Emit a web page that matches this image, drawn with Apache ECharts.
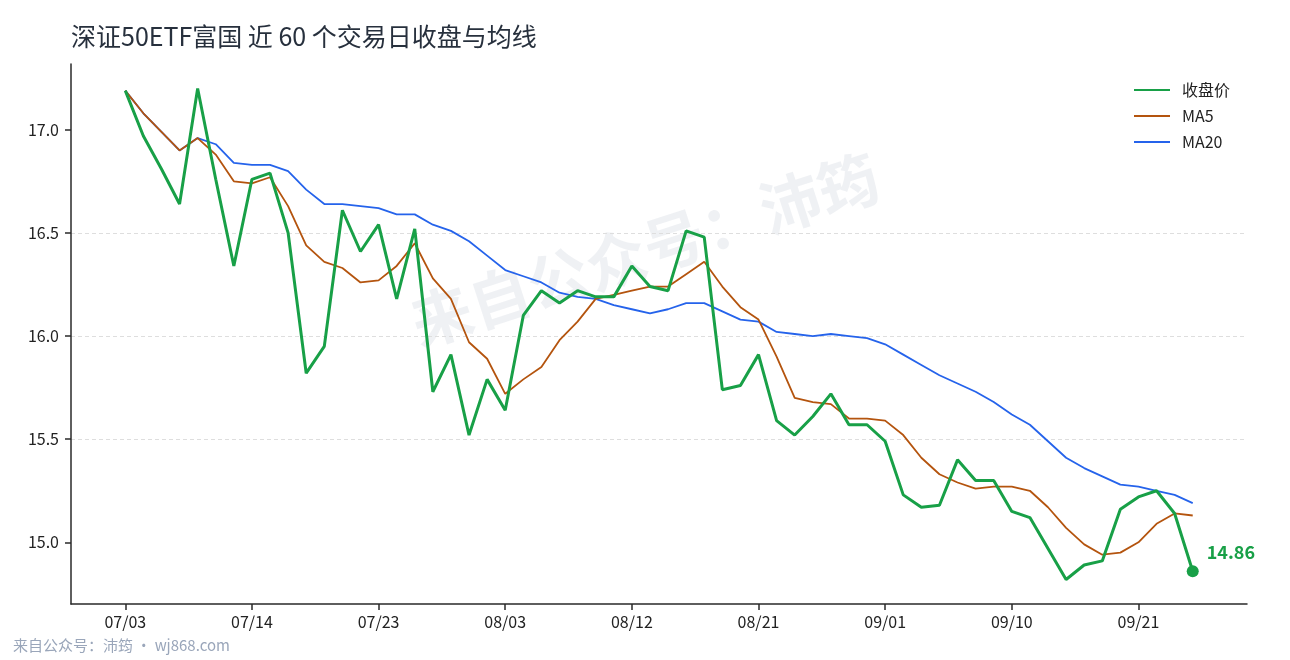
<!DOCTYPE html>
<html>
<head>
<meta charset="utf-8">
<title>深证50ETF富国 近 60 个交易日收盘与均线</title>
<script src="https://cdn.jsdelivr.net/npm/echarts@6/dist/echarts.min.js"></script>
<style>
  html, body { margin: 0; padding: 0; background: #fff; }
  #chart { width: 1290px; height: 660px; }
</style>
</head>
<body>
<div id="chart"></div>
<script>
const dates = ['07/03','07/04','07/07','07/08','07/09','07/10','07/11','07/14','07/15','07/16',
  '07/17','07/18','07/21','07/22','07/23','07/24','07/25','07/28','07/29','07/30',
  '07/31','08/03','08/04','08/05','08/06','08/07','08/08','08/11','08/12','08/13',
  '08/14','08/15','08/18','08/19','08/20','08/21','08/22','08/25','08/26','08/27',
  '08/28','08/29','09/01','09/02','09/03','09/04','09/05','09/08','09/09','09/10',
  '09/11','09/12','09/15','09/16','09/17','09/18','09/21','09/22','09/23','09/24'];

const close = [17.19,16.97,16.81,16.64,17.20,16.76,16.34,16.76,16.79,16.50,
  15.82,15.95,16.61,16.41,16.54,16.18,16.52,15.73,15.91,15.52,
  15.79,15.64,16.10,16.22,16.16,16.22,16.19,16.19,16.34,16.24,
  16.22,16.51,16.48,15.74,15.76,15.91,15.59,15.52,15.61,15.72,
  15.57,15.57,15.49,15.23,15.17,15.18,15.40,15.30,15.30,15.15,
  15.12,14.97,14.82,14.89,14.91,15.16,15.22,15.25,15.14,14.86];

const ma5 = [17.19,17.08,16.99,16.90,16.96,16.88,16.75,16.74,16.77,16.63,
  16.44,16.36,16.33,16.26,16.27,16.34,16.45,16.28,16.18,15.97,
  15.89,15.72,15.79,15.85,15.98,16.07,16.18,16.20,16.22,16.24,
  16.24,16.30,16.36,16.24,16.14,16.08,15.90,15.70,15.68,15.67,
  15.60,15.60,15.59,15.52,15.41,15.33,15.29,15.26,15.27,15.27,
  15.25,15.17,15.07,14.99,14.94,14.95,15.00,15.09,15.14,15.13];

const ma20 = [17.19,17.08,16.99,16.90,16.96,16.93,16.84,16.83,16.83,16.80,
  16.71,16.64,16.64,16.63,16.62,16.59,16.59,16.54,16.51,16.46,
  16.39,16.32,16.29,16.26,16.21,16.19,16.18,16.15,16.13,16.11,
  16.13,16.16,16.16,16.12,16.08,16.07,16.02,16.01,16.00,16.01,
  16.00,15.99,15.96,15.91,15.86,15.81,15.77,15.73,15.68,15.62,
  15.57,15.49,15.41,15.36,15.32,15.28,15.27,15.25,15.23,15.19];

const yTicks = [15.0, 15.5, 16.0, 16.5, 17.0];

// empty slots either side so the lines don't touch the axes
const PAD = 3;
const cats = [];
for (let i = 0; i < PAD; i++) cats.push('pl' + i);
dates.forEach(d => cats.push(d));
for (let i = 0; i < PAD; i++) cats.push('pr' + i);
const padded = arr => Array(PAD).fill(null).concat(arr);
const showIdx = idx => idx >= PAD && idx < PAD + dates.length && (idx - PAD) % 7 === 0;

const lo = Math.min(...close), hi = Math.max(...close);
const yPad = (hi - lo) * 0.05;

const FONT = '"Noto Sans CJK SC", "Noto Sans", sans-serif';
const last = close.length - 1;

const chart = echarts.init(document.getElementById('chart'));
chart.setOption({
  animation: false,
  textStyle: { fontFamily: FONT },
  title: {
    text: '深证50ETF富国 近 60 个交易日收盘与均线',
    left: 66, top: 19,
    textStyle: { fontSize: 25, fontWeight: 'normal', color: '#27303d', fontFamily: FONT }
  },
  legend: {
    data: ['收盘价', 'MA5', 'MA20'],
    orient: 'vertical',
    left: 1128, top: 77,
    itemWidth: 36, itemHeight: 14, itemGap: 10,
    itemStyle: { opacity: 0 },
    textStyle: { fontSize: 16, color: '#222', padding: [0, 0, 0, 7] }
  },
  graphic: [
    {
      type: 'text', x: 645, y: 250, rotation: 18 * Math.PI / 180, z: -10,
      style: {
        text: '来自公众号：沛筠', x: 0, y: 0, align: 'center', verticalAlign: 'middle',
        fontSize: 61, fontWeight: 'bold', fontFamily: FONT, fill: 'rgba(100,116,150,0.10)'
      }
    },
    {
      type: 'text', left: 13, top: 638,
      style: { text: '来自公众号：沛筠 · wj868.com', fontSize: 15, fontFamily: FONT, fill: '#9aa6ba' }
    }
  ],
  grid: { left: 71, right: 43, top: 64, bottom: 56 },
  xAxis: {
    type: 'category',
    data: cats,
    boundaryGap: false,
    axisLine: { lineStyle: { color: '#2a2a2a', width: 1.5 } },
    axisTick: { interval: showIdx, length: 6, lineStyle: { color: '#2a2a2a', width: 1.5 } },
    axisLabel: { interval: showIdx, fontSize: 16, color: '#222', margin: 10 },
    splitLine: { show: false }
  },
  yAxis: {
    type: 'value',
    min: lo - yPad, max: hi + yPad,
    axisLine: { show: true, lineStyle: { color: '#2a2a2a', width: 1.5 } },
    axisTick: { show: true, length: 6, customValues: yTicks, lineStyle: { color: '#2a2a2a', width: 1.5 } },
    axisLabel: { customValues: yTicks, fontSize: 16, color: '#222', margin: 12,
      formatter: v => v.toFixed(1) },
    splitLine: { show: true, showMinLine: false, showMaxLine: false,
      lineStyle: { color: '#dedede', type: [4, 3], width: 1 } }
  },
  series: [
    {
      name: '收盘价', type: 'line', data: padded(close), symbol: 'none',
      lineStyle: { color: '#18a047', width: 3 }, itemStyle: { color: '#18a047' }, z: 5,
      markPoint: {
        symbol: 'circle', symbolSize: 12, silent: true,
        itemStyle: { color: '#18a047' },
        data: [{ coord: [last + PAD, close[last]] }],
        label: {
          show: true, position: 'right', distance: 8, offset: [0, -19],
          formatter: close[last].toFixed(2),
          fontSize: 18, fontWeight: 'bold', color: '#18a047', fontFamily: FONT
        }
      }
    },
    {
      name: 'MA5', type: 'line', data: padded(ma5), symbol: 'none',
      lineStyle: { color: '#b4540e', width: 1.8 }, itemStyle: { color: '#b4540e' }, z: 4
    },
    {
      name: 'MA20', type: 'line', data: padded(ma20), symbol: 'none',
      lineStyle: { color: '#2563eb', width: 1.8 }, itemStyle: { color: '#2563eb' }, z: 3
    }
  ]
});
</script>
</body>
</html>
